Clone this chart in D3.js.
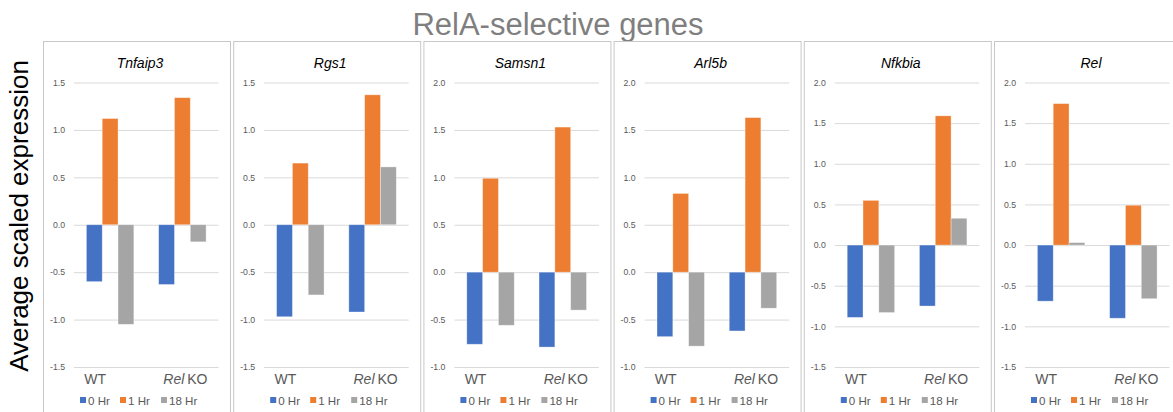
<!DOCTYPE html>
<html>
<head>
<meta charset="utf-8">
<script src="https://cdn.jsdelivr.net/npm/d3@7"></script>
<style>
  html, body { margin: 0; padding: 0; background: #fff; }
  svg { display: block; font-family: "Liberation Sans", Arial, sans-serif; }
</style>
</head>
<body>
<svg id="chart" width="1173" height="412"></svg>
<script>
// Genes shown, one small panel each
const genes = ["Tnfaip3", "Rgs1", "Samsn1", "Arl5b", "Nfkbia", "Rel"];
// Genotypes on the x axis of every panel
const groups = ["WT", "Rel KO"];
// Time points (legend entries)
const timepoints = ["0 Hr", "1 Hr", "18 Hr"];

// Average scaled expression per gene, as [WT, Rel KO]
const hr0 = [[-0.60, -0.63], [-0.97, -0.92], [-0.76, -0.79], [-0.68, -0.62], [-0.89, -0.75], [-0.69, -0.90]];
const hr1 = [[1.12, 1.34], [0.65, 1.37], [0.99, 1.53], [0.83, 1.63], [0.55, 1.59], [1.74, 0.49]];
const hr18 = [[-1.05, -0.18], [-0.74, 0.61], [-0.56, -0.40], [-0.78, -0.38], [-0.83, 0.33], [0.03, -0.66]];

// Value axis extent of each panel
const yDomains = [[-1.5, 1.5], [-1.5, 1.5], [-1.0, 2.0], [-1.0, 2.0], [-1.5, 2.0], [-1.5, 2.0]];
const tickStep = 0.5;

const seriesValues = [hr0, hr1, hr18];
const colors = ["#4472C4", "#ED7D31", "#A5A5A5"];

const svg = d3.select("#chart");

// Overall title
svg.append("text")
  .attr("x", 558).attr("y", 35)
  .attr("text-anchor", "middle")
  .attr("font-size", 31)
  .attr("fill", "#7f7f7f")
  .text("RelA-selective genes");

// Shared y-axis label
svg.append("text")
  .attr("transform", "translate(28,216) rotate(-90)")
  .attr("text-anchor", "middle")
  .attr("font-size", 26)
  .attr("fill", "#000")
  .text("Average scaled expression");

const panelX = d3.scaleLinear().domain([0, 1]).range([43, 233.2]);
const panelW = 187;
const panelTop = 41.5;
const plotLeft = 31, plotRight = 175.5;
const plotTop = 82.5, plotBottom = 367;

genes.forEach((gene, gi) => {
  const g = svg.append("g")
    .attr("transform", `translate(${panelX(gi)},0)`);

  // panel frame
  g.append("rect")
    .attr("x", 0.5).attr("y", panelTop)
    .attr("width", panelW).attr("height", 420 - panelTop)
    .attr("fill", "none")
    .attr("stroke", "#c8c8c8")
    .attr("stroke-width", 1);

  // gene name
  g.append("text")
    .attr("x", 97).attr("y", 68)
    .attr("text-anchor", "middle")
    .attr("font-size", 14)
    .attr("font-style", "italic")
    .attr("fill", "#000")
    .text(gene);

  const [lo, hi] = yDomains[gi];
  const y = d3.scaleLinear().domain([lo, hi]).range([plotBottom, plotTop]);
  const ticks = d3.range(lo, hi + tickStep / 2, tickStep);

  const x0 = d3.scaleBand().domain(groups).range([plotLeft, plotRight]);
  const x1 = d3.scaleBand().domain(timepoints).range([12.4, x0.bandwidth() - 12.4]);

  // gridlines + tick labels
  const axis = d3.axisLeft(y)
    .tickValues(ticks)
    .tickSize(plotRight - plotLeft)
    .tickPadding(9)
    .tickFormat(d => d.toFixed(1));

  const ax = g.append("g")
    .attr("transform", `translate(${plotRight},0)`)
    .call(axis);
  ax.select(".domain").remove();
  ax.selectAll(".tick line").attr("stroke", "#d9d9d9").attr("stroke-width", 1);
  ax.selectAll(".tick text")
    .attr("fill", "#595959")
    .attr("font-size", 8.7)
    .attr("font-family", "Liberation Sans, Arial, sans-serif");

  // bars
  const rows = [];
  groups.forEach((grp, k) => {
    timepoints.forEach((tp, s) => {
      rows.push({ grp, tp, s, v: seriesValues[s][gi][k] });
    });
  });

  g.append("g").selectAll("rect")
    .data(rows)
    .join("rect")
    .attr("x", d => x0(d.grp) + x1(d.tp))
    .attr("width", x1.bandwidth())
    .attr("y", d => y(Math.max(0, d.v)))
    .attr("height", d => Math.abs(y(d.v) - y(0)))
    .attr("fill", d => colors[d.s])
    .attr("stroke", "#ffffff")
    .attr("stroke-opacity", 0.45)
    .attr("stroke-width", 0.75);

  // genotype labels
  const labelOffset = { "WT": -15, "Rel KO": 3 };
  groups.forEach(grp => {
    const t = g.append("text")
      .attr("x", x0(grp) + x0.bandwidth() / 2 + labelOffset[grp])
      .attr("y", 384)
      .attr("text-anchor", "middle")
      .attr("font-size", 14)
      .attr("fill", "#595959");
    if (grp === "Rel KO") {
      t.append("tspan").attr("font-style", "italic").text("Rel");
      t.append("tspan").attr("dx", -1).text(" KO");
    } else {
      t.text(grp);
    }
  });

  // legend
  const legendX = [37, 77, 118];
  timepoints.forEach((tp, s) => {
    g.append("rect")
      .attr("x", legendX[s]).attr("y", 397)
      .attr("width", 6).attr("height", 6)
      .attr("fill", colors[s]);
    g.append("text")
      .attr("x", legendX[s] + 8).attr("y", 404.5)
      .attr("font-size", 11.6)
      .attr("fill", "#595959")
      .text(tp);
  });
});
</script>
</body>
</html>
